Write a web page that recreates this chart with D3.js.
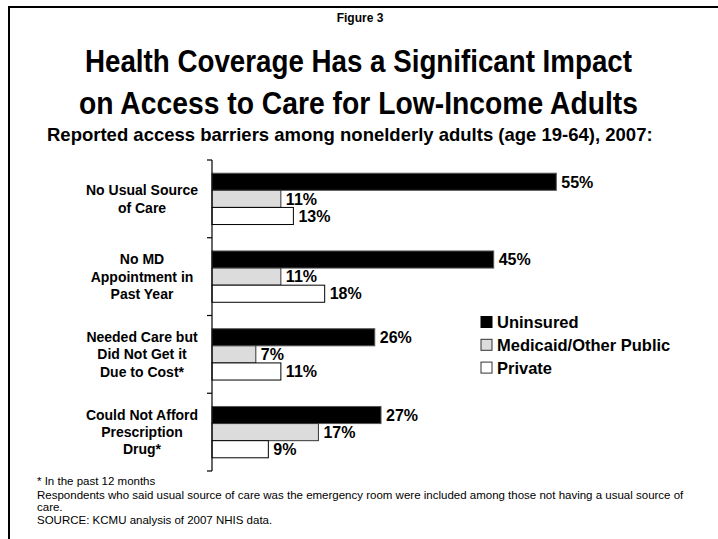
<!DOCTYPE html>
<html>
<head>
<meta charset="utf-8">
<script src="https://cdn.jsdelivr.net/npm/d3@7"></script>
<style>
  html, body { margin: 0; padding: 0; background: #fff; }
  svg { display: block; font-family: Arial, "Liberation Sans", Helvetica, sans-serif; }
</style>
</head>
<body>
<svg id="chart" width="718" height="539"></svg>
<script>
// Categories (each label split into its display lines)
const categories = [
  ["No Usual Source", "of Care"],
  ["No MD", "Appointment in", "Past Year"],
  ["Needed Care but", "Did Not Get it", "Due to Cost*"],
  ["Could Not Afford", "Prescription", "Drug*"]
];
const seriesNames = ["Uninsured", "Medicaid/Other Public", "Private"];
const uninsured = [55, 45, 26, 27];
const medicaid  = [11, 11, 7, 17];
const privateIns = [13, 18, 11, 9];
const seriesValues = [uninsured, medicaid, privateIns];

const fills   = ["#000000", "#dcdcdc", "#ffffff"];
const strokes = ["#555555", "#333333", "#000000"];

const footnotes = [
  "* In the past 12 months",
  "Respondents who said usual source of care was the emergency room were included among those not having a usual source of",
  "care.",
  "SOURCE: KCMU analysis of 2007 NHIS data."
];

const svg = d3.select("#chart");

// Size a text element's font so its natural width equals the given width
function fitWidth(sel, width) {
  const base = +sel.attr("font-size");
  const w = sel.node().getComputedTextLength();
  sel.attr("font-size", base * width / w);
  return sel;
}

// Frame: top rule and left rule
svg.append("line").attr("x1", 9).attr("x2", 718).attr("y1", 7).attr("y2", 7)
  .attr("stroke", "#000").attr("stroke-width", 2);
svg.append("line").attr("x1", 9).attr("x2", 9).attr("y1", 6).attr("y2", 539)
  .attr("stroke", "#000").attr("stroke-width", 2);

// Headings
svg.append("text").attr("x", 360).attr("y", 22).attr("text-anchor", "middle")
  .attr("font-weight", "bold").attr("font-size", 12).text("Figure 3");

svg.append("text").attr("x", 358.5).attr("y", 72).attr("text-anchor", "middle")
  .attr("font-weight", "bold").attr("font-size", 31)
  .attr("textLength", 547).attr("lengthAdjust", "spacingAndGlyphs")
  .text("Health Coverage Has a Significant Impact");
svg.append("text").attr("x", 358.5).attr("y", 114).attr("text-anchor", "middle")
  .attr("font-weight", "bold").attr("font-size", 31)
  .attr("textLength", 559).attr("lengthAdjust", "spacingAndGlyphs")
  .text("on Access to Care for Low-Income Adults");

fitWidth(svg.append("text").attr("x", 47).attr("y", 141)
  .attr("font-weight", "bold").attr("font-size", 16)
  .text("Reported access barriers among nonelderly adults (age 19-64), 2007:"), 606);

// Scales
const x = d3.scaleLinear().domain([0, 60]).range([212, 587.6]);
const y0 = d3.scaleBand().domain(d3.range(categories.length))
  .range([160, 471]).paddingInner(0.34).paddingOuter(0.17);
const y1 = d3.scaleBand().domain(d3.range(seriesNames.length))
  .range([0, y0.bandwidth()]);

// Bars
const g = svg.append("g");
categories.forEach((cat, ci) => {
  const grp = g.append("g").attr("transform", `translate(0,${y0(ci)})`);
  seriesValues.forEach((vals, si) => {
    grp.append("rect")
      .attr("x", x(0))
      .attr("y", y1(si))
      .attr("width", x(vals[ci]) - x(0))
      .attr("height", y1.bandwidth())
      .attr("fill", fills[si])
      .attr("stroke", strokes[si])
      .attr("stroke-width", 1);
    grp.append("text")
      .attr("x", x(vals[ci]) + 5)
      .attr("y", y1(si) + y1.bandwidth() / 2)
      .attr("dy", "0.36em")
      .attr("font-weight", "bold").attr("font-size", 16)
      .text(vals[ci] + "%");
  });
});

// Category axis: vertical line with ticks between groups
const step = y0.step();
const tickYs = d3.range(categories.length + 1).map(i => y0(0) - step * y0.paddingOuter() + i * step);
svg.append("line").attr("x1", x(0)).attr("x2", x(0))
  .attr("y1", tickYs[0]).attr("y2", tickYs[tickYs.length - 1])
  .attr("stroke", "#000").attr("stroke-width", 1.2);
svg.selectAll(".tick").data(tickYs).join("line")
  .attr("x1", x(0) - 5).attr("x2", x(0))
  .attr("y1", d => d).attr("y2", d => d)
  .attr("stroke", "#000").attr("stroke-width", 1.2);

// Category labels, centred lines
categories.forEach((lines, ci) => {
  const cy = y0(ci) + y0.bandwidth() / 2;
  const lh = 17.3;
  const t = svg.append("text").attr("text-anchor", "middle")
    .attr("font-weight", "bold").attr("font-size", 14);
  lines.forEach((ln, li) => {
    t.append("tspan").attr("x", 142)
      .attr("y", cy + (li - (lines.length - 1) / 2) * lh)
      .attr("dy", "0.36em").text(ln);
  });
});

// Legend
const legend = svg.append("g").attr("transform", "translate(481,322)");
seriesNames.forEach((name, si) => {
  const row = legend.append("g").attr("transform", `translate(0,${si * 22.8})`);
  row.append("rect").attr("x", 0).attr("y", -5.5).attr("width", 11).attr("height", 11)
    .attr("fill", fills[si]).attr("stroke", si === 0 ? "#000" : "#333").attr("stroke-width", 1);
  row.append("text").attr("x", 16).attr("y", 0).attr("dy", "0.36em")
    .attr("font-weight", "bold").attr("font-size", 16.5).text(name);
});

// Footnotes
svg.selectAll(".foot").data(footnotes).join("text")
  .attr("x", 37)
  .attr("y", (d, i) => [485, 499, 511, 524][i])
  .attr("font-size", 10.5)
  .each(function (d, i) {
    const t = d3.select(this).text(d);
    if (i === 1) fitWidth(t, 647);
  });
// Use the long line's fitted size for every footnote line
const footSize = d3.select(svg.selectAll("text").filter(d => d === footnotes[1]).node()).attr("font-size");
svg.selectAll("text").filter(d => footnotes.includes(d)).attr("font-size", footSize);
</script>
</body>
</html>
